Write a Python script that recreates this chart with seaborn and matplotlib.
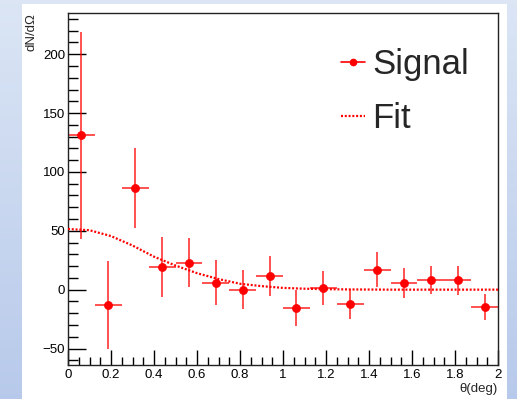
import numpy as np
import pandas as pd
import matplotlib
matplotlib.use("Agg")
import matplotlib.pyplot as plt
from matplotlib.patches import Rectangle
from matplotlib.lines import Line2D
from matplotlib.ticker import MultipleLocator
import seaborn as sns

# ---- data ----
theta = [0.0625, 0.1875, 0.3125, 0.4375, 0.5625, 0.6875, 0.8125, 0.9375,
         1.0625, 1.1875, 1.3125, 1.4375, 1.5625, 1.6875, 1.8125, 1.9375]
signal = [131, -13, 86, 19, 23, 6, 0, 11.5, -15.5, 1.5, -12.5, 17, 6, 8, 8, -15]
signal_err = [88, 37, 34, 25.5, 21, 19, 16.5, 17, 15, 14.5, 12.7, 15, 12.7, 12, 12.5, 11]
bin_half_width = [0.0625] * len(theta)

fit_x = [0.0, 0.1, 0.2, 0.3, 0.4, 0.5, 0.6, 0.7, 0.8, 0.9, 1.0, 1.1, 1.2, 1.3,
         1.4, 1.5, 1.6, 1.7, 1.8, 1.9, 2.0]
fit_y = [51.5, 50.5, 45.5, 37.5, 28, 20.5, 14, 9, 5, 3, 1.5, 0.8, 0.4, 0.2,
         0.1, 0, 0, 0, 0, 0, 0]

x_ticks = [0, 0.2, 0.4, 0.6, 0.8, 1, 1.2, 1.4, 1.6, 1.8, 2]
x_ticklabels = ["0", "0.2", "0.4", "0.6", "0.8", "1", "1.2", "1.4", "1.6", "1.8", "2"]
y_ticks = [-50, 0, 50, 100, 150, 200]

df_sig = pd.DataFrame({"theta": theta, "signal": signal})
df_fit = pd.DataFrame({"x": fit_x, "y": fit_y})

sns.set_theme(style="ticks")
plt.rcParams["font.family"] = ["Liberation Sans", "DejaVu Sans"]

W, H = 517, 399
fig = plt.figure(figsize=(W / 100, H / 100), dpi=100)

# gradient background
bg = fig.add_axes([0, 0, 1, 1], zorder=-10)
top_c = np.array([0.86, 0.90, 0.96])
bot_c = np.array([0.72, 0.79, 0.92])
t = np.linspace(0, 1, 256)[:, None]
grad = top_c[None, :] * (1 - t) + bot_c[None, :] * t
grad = np.repeat(grad[:, None, :], 2, axis=1)
bg.imshow(grad, aspect="auto", extent=[0, 1, 0, 1], origin="upper")
bg.axis("off")
fig.patches.append(Rectangle((22 / W, 0), 485 / W, 395 / H, transform=fig.transFigure,
                             facecolor="white", edgecolor="none", zorder=-5))

ax = fig.add_axes([68 / W, 34 / H, 430 / W, 352 / H])
ax.set_facecolor("none")

# error bars
ax.errorbar(theta, signal, xerr=bin_half_width, yerr=signal_err, fmt="none",
            ecolor="red", elinewidth=1.2, alpha=0.8, zorder=2)
sns.scatterplot(data=df_sig, x="theta", y="signal", color="red", edgecolor="red",
                s=34, marker="o", ax=ax, zorder=4, legend=False)
sns.lineplot(data=df_fit, x="x", y="y", color="red", linewidth=1.6,
             linestyle=(0, (0.9, 0.8)), ax=ax, zorder=3, legend=False)

ax.set_xlim(0, 2)
ax.set_ylim(-64, 235)
ax.set_xticks(x_ticks)
ax.set_xticklabels(x_ticklabels)
ax.set_yticks(y_ticks)
ax.xaxis.set_minor_locator(MultipleLocator(0.05))
ax.yaxis.set_minor_locator(MultipleLocator(10))
ax.tick_params(which="both", direction="in", top=False, right=False,
               labelsize=9.5, colors="black")
ax.tick_params(axis="y", which="major", length=13, width=1, pad=2)
ax.tick_params(axis="y", which="minor", length=7, width=1)
ax.tick_params(axis="x", which="major", length=11, width=1, pad=3)
ax.tick_params(axis="x", which="minor", length=5.5, width=1)
for sp in ax.spines.values():
    sp.set_visible(True)
    sp.set_color("#222222")
    sp.set_linewidth(1)

ax.set_xlabel("θ(deg)", fontsize=9.5, loc="right")
ax.xaxis.set_label_coords(1.0, -0.052)
ax.set_ylabel("dN/dΩ", fontsize=9.5, loc="top")
ax.yaxis.set_label_coords(-0.072, 1.0)

handles = [Line2D([], [], color="red", marker="o", markersize=4.5, lw=1.2),
           Line2D([], [], color="red", lw=1.6, linestyle=(0, (0.9, 0.8)))]
leg = ax.legend(handles, ["Signal", "Fit"], loc="upper left",
                bbox_to_anchor=(0.635, 0.90), frameon=False, fontsize=25,
                handlelength=0.7, handletextpad=0.2, labelspacing=0.6,
                borderpad=0, borderaxespad=0)

fig.savefig("out.png", dpi=100)
